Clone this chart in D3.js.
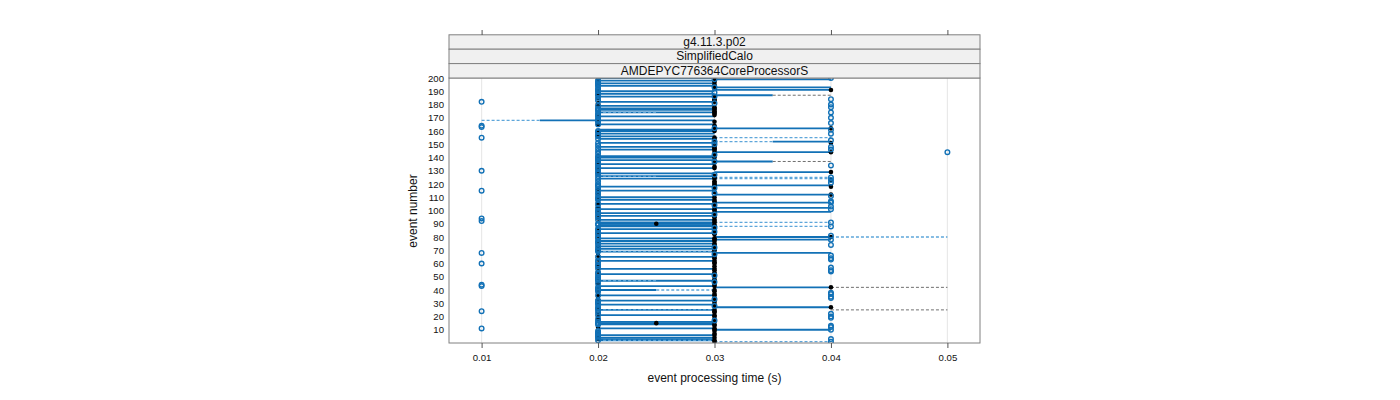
<!DOCTYPE html>
<html lang="en">
<head>
<meta charset="UTF-8">
<title>event processing time</title>
<script src="https://cdn.jsdelivr.net/npm/d3@7"></script>
<style>
  body { margin: 0; background: #fff; }
  svg { display: block; font-family: "Liberation Sans", Arial, sans-serif; }
</style>
</head>
<body>
<div id="chart"></div>
<script>
// strip labels (top to bottom)
const strips = ["g4.11.3.p02", "SimplifiedCalo", "AMDEPYC776364CoreProcessorS"];
const xTicks = [0.01, 0.02, 0.03, 0.04, 0.05];
const yTicks = [10, 20, 30, 40, 50, 60, 70, 80, 90, 100, 110, 120, 130, 140, 150, 160, 170, 180, 190, 200];

// per event (1..200), times in ms; 0 = nothing
const circleT = [
  40,20,40,20,20,20,20,20,20,40,  10,40,40,20,20,20,30,20,40,40,
  20,40,20,10,20,20,20,30,20,20,  20,20,30,40,40,20,40,40,20,20,
  20,20,10,10,20,30,20,20,20,20,  30,20,20,40,40,20,40,20,20,10,
  20,20,40,40,20,40,30,10,20,20,  20,30,20,40,20,20,20,40,20,20,
  40,20,20,30,20,20,30,40,20,20,  40,10,20,10,20,20,30,20,20,20,
  40,20,40,30,20,40,40,20,20,20,  40,20,30,20,10,20,30,20,20,20,
  40,20,40,20,40,20,30,20,20,10,  20,20,20,40,20,20,30,20,20,20,
  20,30,20,50,20,40,20,40,20,30,  20,30,40,20,10,20,20,40,20,20,
  40,30,10,10,20,40,20,20,20,40,  20,20,20,40,20,20,20,40,20,40,
  30,10,20,40,20,30,20,20,30,20,  20,20,30,20,20,20,20,20,30,40
];
const dotT = [
  30,30,20,30,20,30,30,20,30,30,  30,20,30,30,25,30,20,30,20,30,
  30,20,30,30,30,20,40,30,30,20,  30,30,20,30,20,30,30,20,30,30,
  20,40,30,30,20,30,30,30,20,30,  20,30,30,20,30,30,20,30,20,30,
  30,30,20,30,30,20,30,30,20,30,  30,20,30,30,30,20,30,30,30,40,
  20,30,30,20,30,30,20,30,30,25,  30,30,30,20,30,30,20,30,20,30,
  30,20,30,20,30,20,30,30,20,30,  20,40,20,30,20,20,30,40,30,30,
  30,30,40,30,30,30,20,20,40,20,  20,30,30,20,20,30,20,20,20,30,
  20,30,30,40,30,30,30,30,30,30,  40,30,30,30,30,20,20,20,20,30,
  30,40,30,30,20,20,30,20,20,20,  20,30,30,30,30,30,30,30,20,20,
  20,30,30,30,20,30,20,20,20,20,  40,30,30,20,30,20,30,30,20,30
];
const lineFrom = [
  0,20,20,20,0,20,0,0,0,30,  20,0,0,20,20,20,0,0,0,0,
  20,0,0,0,20,0,30,0,20,0,   0,20,0,0,0,20,0,0,0,20,
  0,30,20,0,0,0,20,0,0,0,    0,20,0,0,0,20,0,0,0,0,
  0,20,0,0,20,0,0,30,20,0,   20,0,20,0,20,0,20,30,20,30,
  0,0,20,0,0,20,0,20,20,20,  20,0,20,0,0,20,0,20,30,0,
  20,30,0,0,20,30,0,20,0,20, 0,30,0,0,20,0,0,20,30,0,
  0,0,0,20,0,20,0,20,30,0,   0,20,0,0,20,0,30,20,0,20,
  20,0,0,30,0,20,0,20,0,0,   20,35,0,20,0,20,0,20,0,20,
  20,30,0,0,20,0,0,15,0,0,   20,0,0,20,0,20,20,0,20,0,
  0,20,0,0,0,20,30,20,0,20,  30,0,30,20,0,20,0,20,30,20
];
const lineTo = [
  0,30,30,30,0,30,0,0,0,40,  30,0,0,30,30,30,0,0,0,0,
  30,0,0,0,30,0,40,0,30,0,   0,30,0,0,0,30,0,0,0,25,
  0,40,30,0,0,0,30,0,0,0,    0,30,0,0,0,30,0,0,0,0,
  0,30,0,0,30,0,0,40,30,0,   30,0,30,0,30,0,30,40,30,40,
  0,0,30,0,0,30,0,30,30,30,  30,0,30,0,0,30,0,30,40,0,
  30,40,0,0,30,40,0,30,0,30, 0,40,0,0,30,0,0,30,40,0,
  0,0,0,30,0,30,0,30,40,0,   0,30,0,0,30,0,35,30,0,30,
  30,0,0,40,0,30,0,30,0,0,   30,40,0,30,0,30,0,30,0,30,
  30,40,0,0,30,0,0,30,0,0,   30,0,0,30,0,30,30,0,30,0,
  0,30,0,0,0,30,35,30,0,30,  40,0,40,30,0,30,0,30,40,30
];
// [event, from, to] dashed segments
const dashBlue = [[1,30,40],[2,20,30],[25,20,30],[40,25,30],[47,20,25],[69,20,30],[80,40,50],
  [88,30,40],[91,30,40],[124,30,40],[125,30,40],[126,20,25],[152,30,35],[155,30,40],
  [168,10,15],[174,20,25]];
const dashGrey = [[25,40,50],[42,40,50],[137,35,40],[187,35,40]];

const W = 1400, H = 400;
const x = d3.scaleLinear().domain([0.0072, 0.0528]).range([449, 980]);
const y = d3.scaleLinear().domain([0, 200]).range([343, 78]);
const ms = v => v / 1000;

const svg = d3.select("#chart").append("svg").attr("width", W).attr("height", H);

svg.append("defs").append("clipPath").attr("id", "pc")
  .append("rect").attr("x", 449).attr("y", 78).attr("width", 531).attr("height", 265);

// grid
svg.append("g").selectAll("line").data(xTicks).join("line")
  .attr("x1", d => x(d)).attr("x2", d => x(d)).attr("y1", 78).attr("y2", 343)
  .attr("stroke", "#e9e9e9").attr("stroke-width", 1.2);

const plot = svg.append("g").attr("clip-path", "url(#pc)");
const events = d3.range(1, 201);

plot.append("g").selectAll("line").data(events.filter(e => lineTo[e - 1] > 0)).join("line")
  .attr("x1", e => x(ms(lineFrom[e - 1]))).attr("x2", e => x(ms(lineTo[e - 1])))
  .attr("y1", e => y(e)).attr("y2", e => y(e))
  .attr("stroke", "#1271b6").attr("stroke-width", 1.8);

plot.append("g").selectAll("line").data(dashBlue).join("line")
  .attr("x1", d => x(ms(d[1]))).attr("x2", d => x(ms(d[2])))
  .attr("y1", d => y(d[0])).attr("y2", d => y(d[0]))
  .attr("stroke", "#5ea6da").attr("stroke-width", 1.3).attr("stroke-dasharray", "3,2");

plot.append("g").selectAll("line").data(dashGrey).join("line")
  .attr("x1", d => x(ms(d[1]))).attr("x2", d => x(ms(d[2])))
  .attr("y1", d => y(d[0])).attr("y2", d => y(d[0]))
  .attr("stroke", "#6f6f6f").attr("stroke-width", 1).attr("stroke-dasharray", "3,2");

plot.append("g").selectAll("circle").data(events.filter(e => dotT[e - 1] > 0)).join("circle")
  .attr("cx", e => x(ms(dotT[e - 1]))).attr("cy", e => y(e)).attr("r", 2.3)
  .attr("fill", "#000");

plot.append("g").selectAll("circle").data(events.filter(e => circleT[e - 1] > 0)).join("circle")
  .attr("cx", e => x(ms(circleT[e - 1]))).attr("cy", e => y(e)).attr("r", 2.3)
  .attr("fill", "none").attr("stroke", "#1271b6").attr("stroke-width", 1.4);

// panel frame
svg.append("rect").attr("x", 449).attr("y", 78).attr("width", 531).attr("height", 265)
  .attr("fill", "none").attr("stroke", "#808080");

// strips
const stripH = 14.4;
strips.forEach((s, i) => {
  const sy = 78 - stripH * (strips.length - i);
  svg.append("rect").attr("x", 449).attr("y", sy).attr("width", 531).attr("height", stripH)
    .attr("fill", "#f0f0f0").attr("stroke", "#808080");
  svg.append("text").attr("x", 714.5).attr("y", sy + stripH - 3.2)
    .attr("text-anchor", "middle").attr("font-size", 12).attr("fill", "#111").text(s);
});

// axes
const axBottom = svg.append("g").attr("transform", "translate(0,343)")
  .call(d3.axisBottom(x).tickValues(xTicks).tickSize(5).tickPadding(6).tickFormat(d3.format(".2f")));
const axTop = svg.append("g").attr("transform", "translate(0,35)")
  .call(d3.axisTop(x).tickValues(xTicks).tickSize(5).tickFormat(""));
const axLeft = svg.append("g").attr("transform", "translate(449,0)")
  .call(d3.axisLeft(y).tickValues(yTicks).tickSize(0).tickPadding(5));
[axBottom, axTop, axLeft].forEach(g => {
  g.select(".domain").remove();
  g.selectAll(".tick line").attr("stroke", "#555");
  g.selectAll("text").attr("font-size", 9.6).attr("fill", "#111")
    .attr("font-family", "Liberation Sans, Arial, sans-serif");
});

svg.append("text").attr("x", 714.5).attr("y", 382).attr("text-anchor", "middle")
  .attr("font-size", 12).attr("fill", "#111").text("event processing time (s)");
svg.append("text").attr("transform", "translate(417,211) rotate(-90)").attr("text-anchor", "middle")
  .attr("font-size", 12).attr("fill", "#111").text("event number");
</script>
</body>
</html>
